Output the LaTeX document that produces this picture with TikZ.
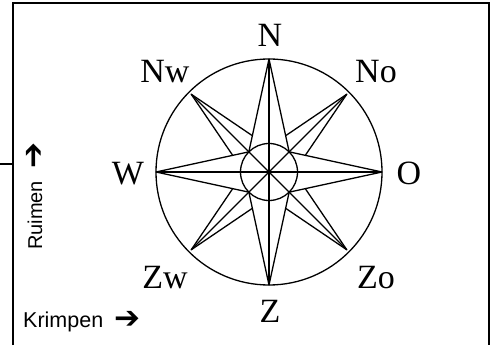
\documentclass[tikz,border=0pt]{standalone}
\usepackage{fontspec}
\setmainfont{Liberation Serif}
\setsansfont{Liberation Sans}
\newfontfamily\arrowfont{DejaVu Sans}
\usetikzlibrary{positioning}
\newcommand{\hintarrow}{\raisebox{-1.5pt}{\arrowfont\bfseries\fontsize{31}{31}\selectfont ➔}}

\begin{document}
\begin{tikzpicture}[
  x=1pt, y=1pt,
  wind/.style={font=\fontsize{34}{40}\selectfont, inner sep=0pt, anchor=base},
  side/.style={font=\sffamily\fontsize{21.5}{24}\selectfont, inner sep=0pt, anchor=base west},
  rose/.style={line width=1.3pt, line join=round},
  frame/.style={line width=1.8pt}
]
\useasboundingbox (0,0) rectangle (494,345);
% frame
\draw[frame] (13,0) -- (13,342) -- (489,342) -- (489,0);
\draw[frame] (0,181) -- (13,181);
% compass rose
\coordinate (c) at (269,173);
\begin{scope}[shift={(c)}]
  \draw[rose] (0,0) circle (113);
  \draw[rose, fill=white] (45:110) -- (90:25) -- (135:110) -- (180:25)
    -- (225:110) -- (270:25) -- (315:110) -- (0:25) -- cycle;
  \draw[rose, fill=white] (90:113) -- (135:28.5) -- (180:113) -- (225:28.5)
    -- (270:113) -- (315:28.5) -- (0:113) -- (45:28.5) -- cycle;
  \foreach \a in {0,90} \draw[rose] (\a:113) -- (\a+180:113);
  \foreach \a in {45,135} \draw[rose] (\a:110) -- (\a+180:110);
  \draw[rose] (0,0) circle (28.5);
\end{scope}
% wind directions
\node[wind] (n) at (270,298) {N};
\node[wind] (nw) at (165,262) {Nw};
\node[wind] (no) at (376,262) {No};
\node[wind] (w) at (128,160) {W};
\node[wind] (o) at (409,160) {O};
\node[wind] (zw) at (165,57) {Zw};
\node[wind] (zo) at (376,57) {Zo};
\node[wind] (z) at (270,23) {Z};
% sail hints
\node[side, rotate=90, font=\sffamily\fontsize{20}{24}\selectfont] (ruimen) at (42,95) {Ruimen\hspace{12pt}\hintarrow};
\node[side] (krimpen) at (23,18) {Krimpen\hspace{11pt}\hintarrow};
\end{tikzpicture}
\end{document}
